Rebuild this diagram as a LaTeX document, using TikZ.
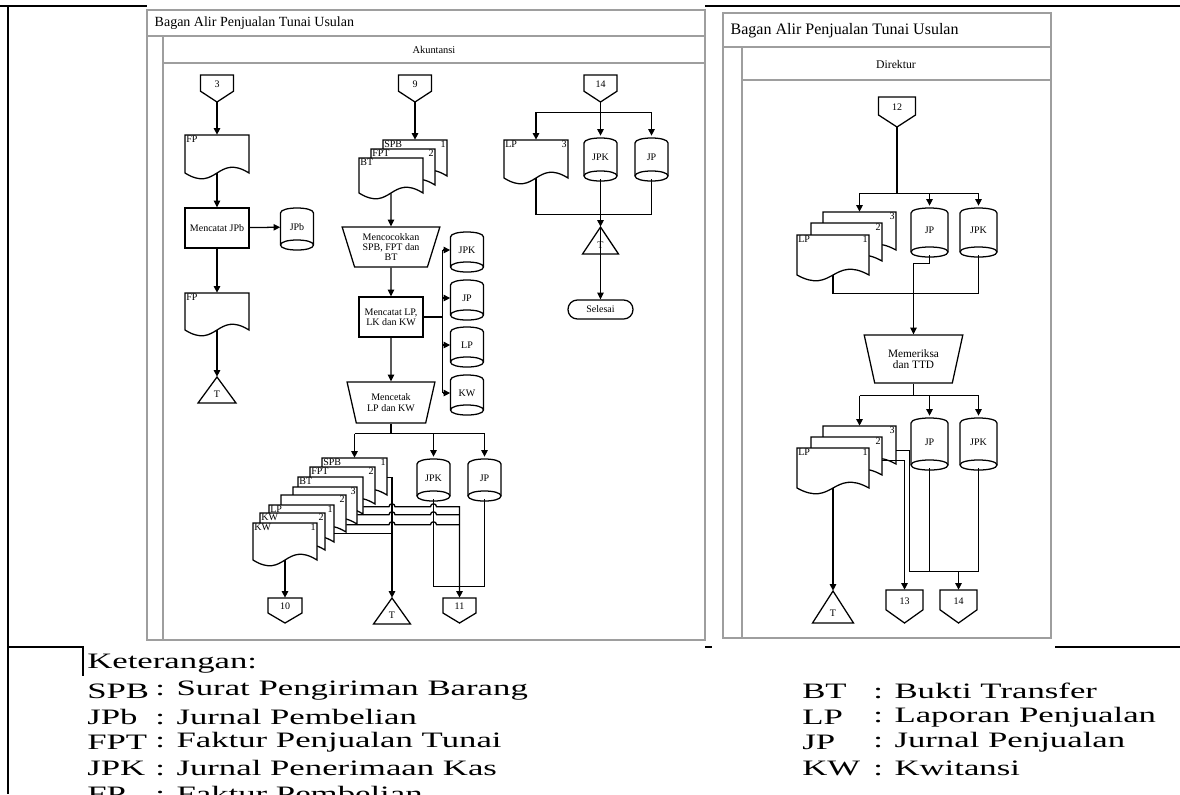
\documentclass[tikz,border=0pt]{standalone}
\usepackage{fontspec}
\setmainfont{Liberation Serif}
\newfontfamily\legfont[FakeStretch=1.58]{Liberation Serif}
\usetikzlibrary{arrows.meta,shapes.geometric,calc}
\newcommand\diagfont{\fontsize{7.5}{7.8}\selectfont}
\newcommand\diagfontB{\fontsize{8.5}{7.8}\selectfont}
\newcommand\smallfont{\fontsize{7.5}{8}\selectfont}
\tikzset{
  flow/.style={line width=0.95pt},
  arr/.style={flow,-{Triangle[length=5pt,width=4.8pt]}},
  lane/.style={draw=black!38,line width=0.8pt},
  procbox/.style={draw,line width=0.95pt,fill=white,inner sep=1pt,align=center,font=\diagfont},
  manual/.style={trapezium,shape border rotate=180,trapezium stretches=true,
    draw,flow,fill=white,inner sep=0pt,align=center,font=\diagfont},
  leg/.style={anchor=west,inner sep=0pt,font=\legfont\fontsize{16.5}{18}\selectfont},
  page/.style={line width=2.2pt},
}
\begin{document}
\begin{tikzpicture}[x=0.75pt,y=-0.75pt]
  \useasboundingbox (0,0) rectangle (1180,794);
  % document: name, left, top, width, height, label, number
  \def\docu#1#2#3#4#5#6#7{%
    \path[draw,flow,fill=white] (#2,#3) -- ({#2+#4},#3) -- ({#2+#4},{#3+#5})
      .. controls ({#2+#4/2},{#3+#5-20}) and ({#2+#4/2},{#3+#5+20}) .. (#2,{#3+#5}) -- cycle;
    \node[inner sep=0,minimum width={#4*0.75pt},minimum height={#5*0.75pt}] (#1) at ({#2+#4/2},{#3+#5/2}) {};
    \node[font=\smallfont,anchor=north west,inner sep=1pt] (#1-l) at (#1.north west) {#6};
    \node[font=\smallfont,anchor=north east,inner sep=1pt] (#1-n) at (#1.north east) {#7};}
  % disk: name, cx, cy, width, height, text
  \def\dbs#1#2#3#4#5#6{%
    \path[draw,flow,fill=white] ({#2-#4/2},{#3-#5/2+5}) .. controls ({#2-#4/2},{#3-#5/2-1.7}) and ({#2+#4/2},{#3-#5/2-1.7}) .. ({#2+#4/2},{#3-#5/2+5})
      -- ({#2+#4/2},{#3+#5/2-5}) .. controls ({#2+#4/2},{#3+#5/2+1.7}) and ({#2-#4/2},{#3+#5/2+1.7}) .. ({#2-#4/2},{#3+#5/2-5}) -- cycle;
    \draw[flow] ({#2-#4/2},{#3+#5/2-5}) .. controls ({#2-#4/2},{#3+#5/2-11.7}) and ({#2+#4/2},{#3+#5/2-11.7}) .. ({#2+#4/2},{#3+#5/2-5});
    \node[inner sep=0,minimum width={#4*0.75pt},minimum height={#5*0.75pt},font=\diagfont] (#1) at (#2,{#3-2}) {#6};}
  % off-page connector: name, cx, top, width, height, text
  \def\offp#1#2#3#4#5#6{%
    \path[draw,flow,fill=white] ({#2-#4/2},#3) -- ({#2+#4/2},#3) -- ({#2+#4/2},{#3+0.6*#5}) -- (#2,{#3+#5}) -- ({#2-#4/2},{#3+0.6*#5}) -- cycle;
    \node[inner sep=0,minimum width={#4*0.75pt},minimum height={#5*0.75pt}] (#1) at (#2,{#3+#5/2}) {};
    \node[font=\diagfont] (#1-t) at (#2,{#3+0.33*#5}) {#6};}
  % archive triangle: name, cx, apex, width, height
  \def\tri#1#2#3#4#5{%
    \path[draw,flow,fill=white] (#2,#3) -- ({#2+#4/2},{#3+#5}) -- ({#2-#4/2},{#3+#5}) -- cycle;
    \node[inner sep=0,minimum width={#4*0.75pt},minimum height={#5*0.75pt}] (#1) at (#2,{#3+#5/2}) {};
    \node[font=\diagfont] (#1-t) at (#2,{#3+0.68*#5}) {T};}

  % page rules
  \draw[page] (0,6) -- (147,6);
  \draw[page] (705,6) -- (1180,6);
  \draw[page] (8,5) -- (8,794);
  \draw[line width=1.4pt] (8,647) -- (83,647) -- (83,676);
  \draw[line width=1.4pt] (705,647) -- (712,647);
  \draw[line width=1.4pt] (1055,647) -- (1180,647);

  % swimlane Akuntansi
  \draw[lane] (147,10) rectangle (705,640);
  \draw[lane] (147,36) -- (705,36);
  \draw[lane] (163,36) -- (163,640);
  \draw[lane] (163,63) -- (705,63);
  \node[anchor=west,font=\fontsize{10.5}{12}\selectfont] (titleA) at (150,23) {Bagan Alir Penjualan Tunai Usulan};
  \node[font=\fontsize{7.8}{9}\selectfont] (akuntansi) at (434,50) {Akuntansi};

  % swimlane Direktur
  \draw[lane] (723,13) rectangle (1051,638);
  \draw[lane] (723,47) -- (1051,47);
  \draw[lane] (742,47) -- (742,638);
  \draw[lane] (742,80) -- (1051,80);
  \node[anchor=west,font=\fontsize{12}{14}\selectfont] (titleB) at (726,31) {Bagan Alir Penjualan Tunai Usulan};
  \node[font=\fontsize{8.8}{10}\selectfont] (direktur) at (896,64) {Direktur};

  % column 3
  \offp{c3}{217}{75}{33}{27}{3}
  \docu{fp1}{185}{135}{64}{38}{FP}{}
  \node[procbox,minimum width=48pt,minimum height=30pt] (mjpb) at (217,228) {Mencatat JPb};
  \dbs{jpb}{297}{229}{33}{42}{JPb}
  \docu{fp2}{185}{293}{64}{37}{FP}{}
  \tri{t1}{217}{377}{38}{26}
  \draw[arr] (c3) -- (fp1);
  \draw[arr] (fp1) -- (mjpb);
  \draw[arr] (mjpb) -- (jpb);
  \draw[arr] (mjpb) -- (fp2);
  \draw[arr] (fp2) -- (t1);

  % column 9
  \offp{c9}{415}{75}{33}{27}{9}
  \docu{spb1}{383}{140}{64}{36}{SPB}{1}
  \docu{fpt1}{371}{149}{64}{36}{FPT}{2}
  \docu{bt1}{359}{158}{64}{35}{BT}{}
  \node[manual,trapezium left angle=70.7,trapezium right angle=70.7,minimum width=73.5pt,minimum height=30pt] (cocok) at (391,247) {Mencocokkan\\SPB, FPT dan\\BT};
  \node[procbox,minimum width=48pt,minimum height=30pt] (lpkw) at (391,317) {Mencatat LP,\\LK dan KW};
  \dbs{jpk1}{467}{252}{33}{40}{JPK}
  \dbs{jp1}{467}{300}{33}{40}{JP}
  \dbs{lp1}{467}{347}{33}{40}{LP}
  \dbs{kw1}{467}{395}{33}{40}{KW}
  \node[manual,trapezium left angle=70,trapezium right angle=70,minimum width=66pt,minimum height=30.75pt] (cetak) at (391,402.5) {Mencetak\\LP dan KW};
  \draw[arr] (c9) -- (spb1);
  \draw[arr] (bt1) -- (cocok);
  \draw[arr] (cocok) -- (lpkw);
  \draw[arr] (lpkw) -- (cetak);
  \draw[flow] (lpkw.east) -- ++(19,0) coordinate (bus);
  \draw[flow] (jpk1.west -| bus) -- (kw1.west -| bus);
  \foreach \n in {jpk1,jp1,lp1,kw1}
    \draw[arr] (\n.west -| bus) -- (\n.west);

  % copies after printing
  \dbs{jpk2}{433.5}{480}{33}{42}{JPK}
  \dbs{jp2}{484.5}{480}{33}{42}{JP}
  \docu{spb2}{322}{458}{65}{37}{SPB}{1}
  \docu{fpt2}{310}{467}{65}{37}{FPT}{2}
  \docu{bt2}{298}{477}{65}{37}{BT}{}
  \docu{dk3}{293}{487}{64}{37}{}{3}
  \docu{dk2}{281}{495}{65}{37}{}{2}
  \docu{lp2}{269}{505}{65}{37}{LP}{1}
  \docu{kw2}{260}{513}{65}{37}{KW}{2}
  \docu{kwf}{253}{523}{64}{37}{KW}{1}
  \offp{c10}{285}{598}{34}{25}{10}
  \tri{t2}{392}{598}{37}{26}
  \offp{c11}{459.5}{598}{33}{25}{11}
  \draw[flow] (cetak.south) -- ++(0,10) coordinate (f9);
  \draw[flow] (spb2.north |- f9) -- (jp2.north |- f9);
  \foreach \n in {spb2,jpk2,jp2}
    \draw[arr] (\n.north |- f9) -- (\n.north);
  \draw[arr] (kwf) -- (c10);
  \draw[arr] (spb2.north east) ++(0,20) -| (t2.north);
  \draw[flow] (jpk2.south) |- ($(c11.north)+(0,-11)$) -| (jp2.south);
  \draw[arr] (bt2.north east) ++(0,30) coordinate (hs)
    -- ($(hs -| t2.north)+(-3,0)$) arc[start angle=180,end angle=360,radius=3]
    -- ($(hs -| jpk2.south)+(-3,0)$) arc[start angle=180,end angle=360,radius=3]
    -| (c11.north);
  \foreach \d/\dy in {dk3/28,dk2/30}
    \draw[flow] (\d.north east) ++(0,\dy) coordinate (hs)
      -- ($(hs -| t2.north)+(-3,0)$) arc[start angle=180,end angle=360,radius=3]
      -- ($(hs -| jpk2.south)+(-3,0)$) arc[start angle=180,end angle=360,radius=3]
      -- (hs -| c11.north);
  \draw[flow] (lp2.north east) ++(0,29) coordinate (hl) -- (hl -| t2.north);

  % column 14
  \offp{c14}{600.5}{75}{33}{27}{14}
  \docu{lp3}{504}{140}{64}{38}{LP}{3}
  \dbs{jpk3}{600.5}{159.5}{33}{43}{JPK}
  \dbs{jp3}{651.5}{159.5}{33}{43}{JP}
  \tri{t3}{600.5}{227}{36}{27}
  \node[draw,flow,fill=white,rounded corners=7pt,minimum width=48.75pt,minimum height=14.25pt,inner sep=0,font=\diagfont] (selesai) at (600.5,309.5) {Selesai};
  \draw[flow] (c14.south) -- ++(0,10) coordinate (f14);
  \draw[flow] (lp3.north |- f14) -- (jp3.north |- f14);
  \foreach \n in {lp3,jpk3,jp3}
    \draw[arr] (\n.north |- f14) -- (\n.north);
  \draw[flow] (lp3.south) |- ($(t3.north)+(0,-12)$) -| (jp3.south);
  \draw[arr] (jpk3.south) -- (t3.north);
  \draw[arr] (t3.north) -- (selesai.north);

  % Direktur
  \offp{c12}{897}{97}{37}{30}{12}
  \docu{lpA3}{823}{212}{73}{38}{}{3}
  \docu{lpA2}{811}{223}{71}{38}{}{2}
  \docu{lpA1}{797}{235}{72}{40}{LP}{1}
  \dbs{jpA}{929.5}{232.5}{37}{49}{JP}
  \dbs{jpkA}{978.5}{232.5}{37}{49}{JPK}
  \node[manual,trapezium left angle=69.4,trapezium right angle=69.4,minimum width=74.25pt,minimum height=36pt,font=\diagfontB] (periksa) at (913.5,359) {Memeriksa\\dan TTD};
  \draw[flow] (c12.south) -- ++(0,66) coordinate (f12);
  \draw[flow] (lpA3.north |- f12) -- (jpkA.north |- f12);
  \foreach \n in {lpA3,jpA,jpkA}
    \draw[arr] (\n.north |- f12) -- (\n.north);
  \draw[flow] (lpA1.south) |- ($(periksa.north)+(0,-41)$) -| (jpkA.south);
  \draw[arr] (jpA.south) -- ++(0,8) -| (periksa.north);

  \docu{lpB3}{823}{426}{73}{38}{}{3}
  \docu{lpB2}{811}{437}{71}{38}{}{2}
  \docu{lpB1}{797}{448}{72}{40}{LP}{1}
  \dbs{jpB}{929.5}{444}{37}{52}{JP}
  \dbs{jpkB}{978.5}{444}{37}{52}{JPK}
  \tri{t4}{833}{591}{41}{32}
  \offp{c13}{904.5}{590}{37}{33}{13}
  \offp{c14b}{958.5}{590}{37}{33}{14}
  \draw[flow] (periksa.south) -- ++(0,12) coordinate (f13);
  \draw[flow] (lpB3.north |- f13) -- (jpkB.north |- f13);
  \foreach \n in {lpB3,jpB,jpkB}
    \draw[arr] (\n.north |- f13) -- (\n.north);
  \draw[arr] (lpB1) -- (t4);
  \draw[arr] (lpB2.north east) ++(0,24) -| (c13.north);
  \draw[flow] (lpB3.north east) ++(0,25) -- ++(13,0) |- ($(c14b.north)+(0,-18)$) -| (jpkB.south);
  \draw[flow] (jpB.south) -- (jpB.south |- {$(c14b.north)+(0,-18)$});
  \draw[arr] ($(c14b.north)+(0,-18)$) -- (c14b.north);

  % legend
  \node[leg] (ket) at (87,664) {Keterangan:};
  \foreach \ab/\tx/\yy [count=\i] in {SPB/Surat Pengiriman Barang/691,JPb/Jurnal Pembelian/717,
      FPT/Faktur Penjualan Tunai/742,JPK/Jurnal Penerimaan Kas/768,FP/Faktur Pembelian/794}{
    \node[leg] (ka\i) at (87,\yy) {\ab};
    \node[leg] (kb\i) at (155,\yy) {: \tx};}
  \foreach \ab/\tx/\yy [count=\i] in {BT/Bukti Transfer/691,LP/Laporan Penjualan/717,
      JP/Jurnal Penjualan/742,KW/Kwitansi/768}{
    \node[leg] (kc\i) at (802,\yy) {\ab};
    \node[leg] (kd\i) at (873,\yy) {: \tx};}
\end{tikzpicture}
\end{document}
